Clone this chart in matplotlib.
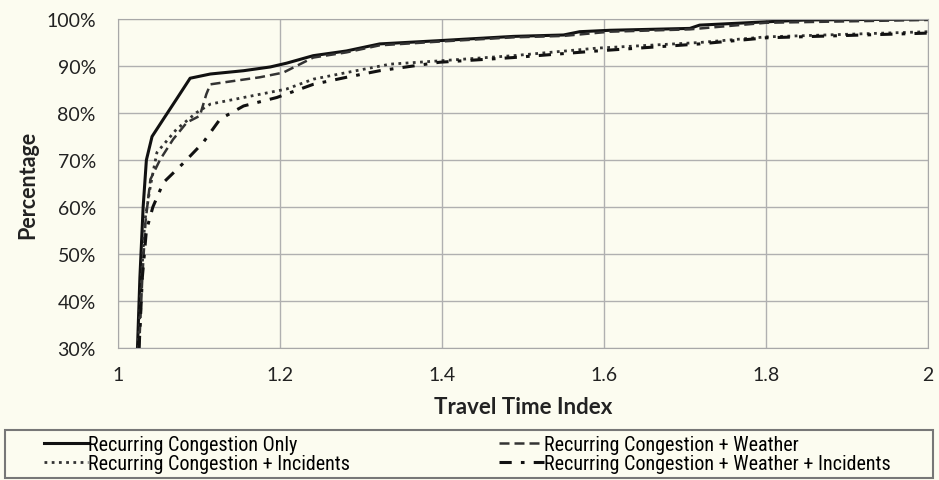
import numpy as np
import matplotlib.pyplot as plt
from matplotlib.ticker import FuncFormatter
from matplotlib.patches import Rectangle
from matplotlib import font_manager

# cumulative share of trips vs. travel time index, one curve per condition
tti_only = [1.024, 1.027, 1.031, 1.035, 1.042, 1.056, 1.072, 1.089, 1.114, 1.155,
            1.188, 1.208, 1.241, 1.282, 1.323, 1.397, 1.488, 1.55, 1.57, 1.607,
            1.706, 1.718, 1.80, 1.85, 2.0]
pct_only = [30, 45, 60, 70, 75, 78.7, 82.9, 87.4, 88.3, 89.0,
            89.8, 90.6, 92.2, 93.2, 94.7, 95.4, 96.3, 96.6, 97.3, 97.6,
            98.0, 98.7, 99.4, 99.8, 100]

tti_weather = [1.026, 1.030, 1.034, 1.040, 1.052, 1.068, 1.085, 1.101, 1.109, 1.114,
               1.134, 1.175, 1.204, 1.241, 1.282, 1.323, 1.397, 1.488, 1.55, 1.607,
               1.706, 1.80, 2.0]
pct_weather = [30, 45, 57, 65.9, 70.1, 74.4, 78.0, 79.4, 84.0, 86.1,
               86.6, 87.6, 88.6, 91.8, 92.9, 94.4, 95.2, 96.1, 96.4, 97.3,
               97.8, 99.2, 99.8]

tti_incid = [1.025, 1.029, 1.033, 1.040, 1.048, 1.072, 1.097, 1.114, 1.155, 1.208,
             1.241, 1.282, 1.336, 1.397, 1.488, 1.591, 1.718, 1.80, 2.0]
pct_incid = [30, 45, 57, 64.5, 71.6, 76.5, 80.1, 81.9, 83.3, 85.1,
             87.2, 88.6, 90.4, 91.1, 92.2, 93.8, 95.0, 96.2, 97.3]

tti_both = [1.026, 1.030, 1.035, 1.043, 1.056, 1.081, 1.105, 1.126, 1.155, 1.196,
            1.241, 1.282, 1.323, 1.397, 1.488, 1.591, 1.718, 1.80, 2.0]
pct_both = [30, 45, 55, 60, 65.2, 69.4, 73.7, 78.7, 81.5, 83.3,
            86.1, 87.6, 89.0, 90.8, 91.8, 93.2, 94.7, 96.0, 97.0]

labels = ['Recurring Congestion Only',
          'Recurring Congestion + Incidents',
          'Recurring Congestion + Weather',
          'Recurring Congestion + Weather + Incidents']

bg = '#fcfcf0'
plt.rcParams['font.family'] = ['Lato', 'DejaVu Sans']

# narrow face for the legend if one is installed
installed = {f.name for f in font_manager.fontManager.ttflist}
narrow = [n for n in ['Liberation Sans Narrow', 'DejaVu Sans Condensed', 'Roboto Condensed']
          if n in installed]
leg_family = narrow + ['DejaVu Sans']

fig = plt.figure(figsize=(9.39, 4.81), dpi=100, facecolor=bg)
ax = fig.add_axes([0.1257, 0.2744, 0.8626, 0.684])
ax.set_facecolor(bg)

l1, = ax.plot(tti_only, pct_only, color='#111111', lw=2.2, ls='-')
l3, = ax.plot(tti_weather, pct_weather, color='#333333', lw=1.8, ls=(0, (4, 2)))
l2, = ax.plot(tti_incid, pct_incid, color='#333333', lw=2.0, ls=(0, (1, 1.6)))
l4, = ax.plot(tti_both, pct_both, color='#111111', lw=2.2, ls=(0, (4, 3, 1.2, 3)))

ax.set_xlim(1, 2)
ax.set_ylim(30, 100)
ax.set_xticks([1, 1.2, 1.4, 1.6, 1.8, 2])
ax.set_xticklabels(['1', '1.2', '1.4', '1.6', '1.8', '2'])
ax.set_yticks(np.arange(30, 101, 10))
ax.yaxis.set_major_formatter(FuncFormatter(lambda v, p: '%d%%' % v))
ax.grid(True, color='#b0b0b0', lw=1)
ax.tick_params(length=0, labelsize=14, colors='#222222')
ax.tick_params(axis='x', pad=13)
ax.tick_params(axis='y', pad=16)
for s in ax.spines.values():
    s.set_color('#a8a8a8')
ax.set_xlabel('Travel Time Index', fontsize=16, fontweight='bold', color='#222222', labelpad=9)
ax.set_ylabel('Percentage', fontsize=15.5, fontweight='bold', color='#222222', labelpad=6)

# legend box under the plot, drawn separately so its size is fixed
frame = Rectangle((5 / 939, 2 / 481), 928 / 939, 48 / 481, transform=fig.transFigure,
                  facecolor=bg, edgecolor='#777777', lw=1.5)
fig.patches.append(frame)
leg = fig.legend([l1, l2, l3, l4], labels, ncol=2, frameon=False,
                 loc='center left', bbox_to_anchor=(44 / 939, 26 / 481),
                 handlelength=2.2, handletextpad=0.0, labelspacing=0.0,
                 columnspacing=7.4, borderaxespad=0, borderpad=0,
                 prop={'family': leg_family, 'size': 14.5})

fig.savefig('out.png', dpi=100, facecolor=bg)
